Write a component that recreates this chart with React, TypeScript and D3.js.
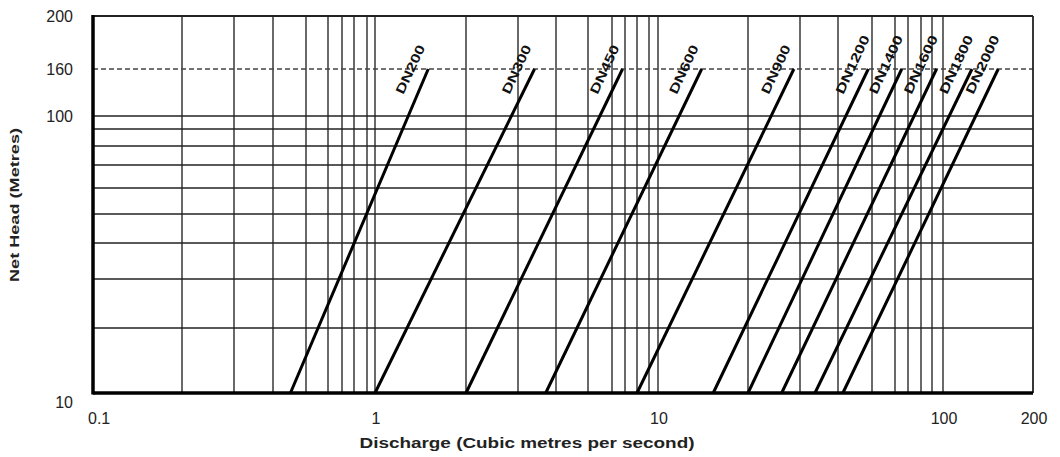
import React from "react";
import * as d3 from "d3";

// pipe sizes and discharge (m3/s) where each line meets 10 m and 160 m head
const pipeLabels = ["DN200", "DN300", "DN450", "DN600", "DN900", "DN1200", "DN1400", "DN1600", "DN1800", "DN2000"];
const flowAtLow = [0.45, 1.0, 2.0, 3.7, 8.0, 15.3, 20, 26, 33.6, 41.3];
const flowAtHigh = [1.5, 3.4, 6.8, 14.0, 28.6, 48.8, 65, 94, 125, 153];
const headLow = 10;
const headHigh = 160;

// grid values
const xGrid = [0.1, 0.2, 0.3, 0.4, 0.5, 0.6, 0.7, 0.8, 0.9, 1, 2, 3, 4, 5, 6, 7, 8, 9, 10, 20, 30, 40, 50, 60, 70, 80, 90, 100, 200];
const yGrid = [10, 20, 30, 40, 50, 60, 70, 80, 90, 100, 160, 200];
const xTickLabels = ["0.1", "1", "10", "100", "200"];
const yTickLabels = ["10", "100", "160", "200"];

// the scanned chart is not a perfect log grid, so the log scales are
// calibrated piecewise against where its grid lines fall
const xCalib = [93, 182, 234, 273, 306, 328, 342, 354, 367, 375, 466, 518, 556, 588, 612, 625, 637, 649, 658, 748, 800, 838, 872, 895, 908, 921, 932, 943, 1033];
const yCalib = [393, 328, 279, 243, 214, 188, 165, 146, 129, 116, 69, 16];

const FONT = "Arial, 'Liberation Sans', sans-serif";

const App = () => {
  const x = d3.scaleLog().domain(xGrid).range(xCalib);
  const y = d3.scaleLog().domain(yGrid).range(yCalib);

  const x0 = x(0.1);
  const x1 = x(200);
  const y0 = y(10);
  const y1 = y(200);

  const line = d3
    .line<[number, number]>()
    .x(d => x(d[0]))
    .y(d => y(d[1]));

  return (
    <svg
      width={1060}
      height={457}
      style={{ position: "absolute", left: 0, top: 0, background: "#fff" }}
    >
      {/* vertical grid */}
      {xGrid.slice(1, -1).map(v => (
        <line key={"vx" + v} x1={x(v)} x2={x(v)} y1={y1} y2={y0} stroke="#2a2a2a" strokeWidth={1.4} />
      ))}
      {/* horizontal grid */}
      {yGrid.filter(v => v > 10 && v <= 100).map(v => (
        <line key={"hy" + v} x1={x0} x2={x1} y1={y(v)} y2={y(v)} stroke="#222" strokeWidth={1.4} />
      ))}
      {/* dashed 160 m line */}
      <line x1={x0} x2={x1} y1={y(160)} y2={y(160)} stroke="#444" strokeWidth={1.4} strokeDasharray="5,3" />

      {/* frame */}
      <line x1={x0} x2={x1} y1={y1} y2={y1} stroke="#222" strokeWidth={1.8} />
      <line x1={x1} x2={x1} y1={y1} y2={y0} stroke="#222" strokeWidth={1.8} />
      <line x1={x0} x2={x0} y1={y1 - 1} y2={y0 + 1.5} stroke="#000" strokeWidth={3.5} />
      <line x1={x0} x2={x1} y1={y0} y2={y0} stroke="#000" strokeWidth={3.5} />

      {/* pipe lines */}
      {pipeLabels.map((name, i) => {
        const pts: [number, number][] = [
          [flowAtLow[i], headLow],
          [flowAtHigh[i], headHigh],
        ];
        const tx = x(flowAtHigh[i]) - 25;
        const ty = y(headHigh) + 26;
        return (
          <g key={name}>
            <path d={line(pts) || ""} fill="none" stroke="#000" strokeWidth={3} />
            <text
              transform={`translate(${tx},${ty}) rotate(-65)`}
              fontFamily={FONT}
              fontSize={13}
              fontWeight="bold"
              fill="#111"
              textLength={name.length * 10.5}
              lengthAdjust="spacingAndGlyphs"
            >
              {name}
            </text>
          </g>
        );
      })}

      {/* x tick labels */}
      {xTickLabels.map(t => (
        <text
          key={"xt" + t}
          x={x(+t) + (t === "0.1" ? -5 : 1)}
          y={424}
          textAnchor={t === "0.1" ? "start" : "middle"}
          fontFamily={FONT}
          fontSize={16}
          fill="#222"
        >
          {t}
        </text>
      ))}
      {/* y tick labels */}
      {yTickLabels.map(t => (
        <text
          key={"yt" + t}
          x={73}
          y={y(+t) + (t === "10" ? 15 : 6)}
          textAnchor="end"
          fontFamily={FONT}
          fontSize={16}
          fill="#222"
        >
          {t}
        </text>
      ))}

      {/* axis titles */}
      <text
        x={527}
        y={448}
        textAnchor="middle"
        fontFamily={FONT}
        fontSize={14}
        fontWeight="bold"
        fill="#222"
        textLength={335}
        lengthAdjust="spacingAndGlyphs"
      >
        Discharge (Cubic metres per second)
      </text>
      <text
        transform="translate(19,205) rotate(-90)"
        textAnchor="middle"
        fontFamily={FONT}
        fontSize={13}
        fontWeight="bold"
        fill="#222"
        textLength={154}
        lengthAdjust="spacingAndGlyphs"
      >
        Net Head (Metres)
      </text>
    </svg>
  );
};

export default App;
